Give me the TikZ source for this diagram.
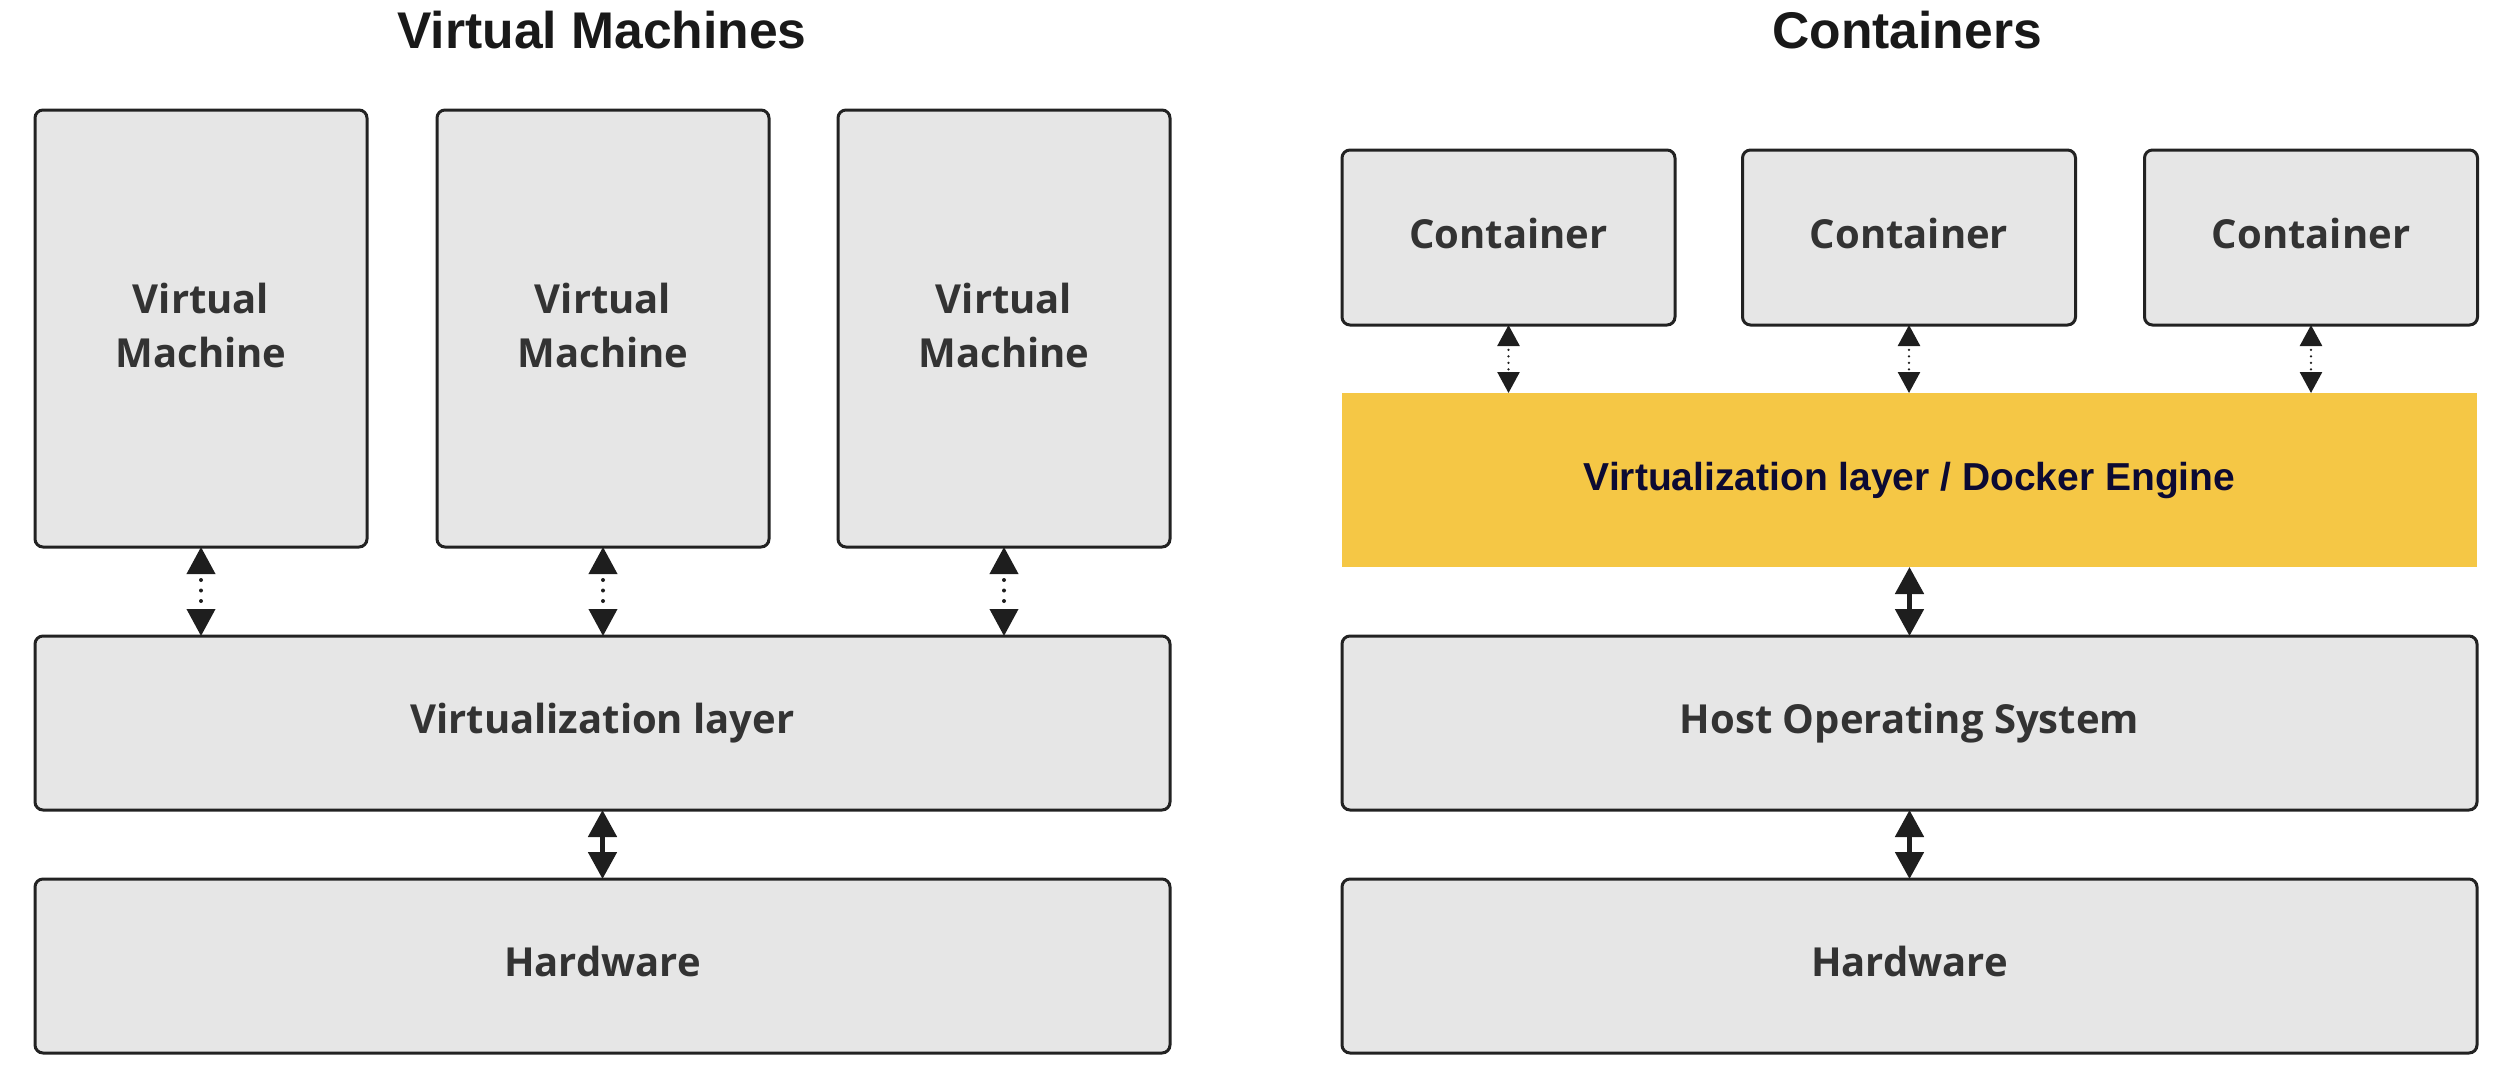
\documentclass[tikz,border=0pt]{standalone}
\usepackage{fontspec}
\setmainfont{Liberation Sans}
\newfontfamily\osans{Open Sans}
\usetikzlibrary{arrows.meta}
\definecolor{boxfill}{HTML}{E6E6E6}
\definecolor{boxline}{HTML}{222222}
\definecolor{txtgray}{HTML}{333333}
\definecolor{ylw}{HTML}{F5C745}
\definecolor{navy}{HTML}{0C0A33}
\definecolor{arrcol}{HTML}{1E1E1E}
\begin{document}
\begin{tikzpicture}[x=1pt,y=-1pt,
  box/.style={draw=boxline, line width=3pt, fill=boxfill, rounded corners=8pt,
    inner sep=0pt, outer sep=0pt, text=txtgray, align=center,
    font=\osans\bfseries\fontsize{40}{54}\selectfont},
  onebox/.style={box, text height=31pt, text depth=10pt},
  vmbox/.style={box, text depth=7pt, minimum width=332pt, minimum height=437pt},
  ylwbox/.style={fill=ylw, inner sep=0pt, outer sep=0pt, text=navy,
    font=\bfseries\fontsize{39}{46}\selectfont},
  ttl/.style={anchor=base, inner sep=0pt, text=black!90,
    font=\bfseries\fontsize{51.6}{60}\selectfont},
  dotarrow/.style={draw=arrcol, line width=4pt, line cap=round,
    dash pattern=on 0pt off 10.5pt, dash phase=3.5pt,
    {Triangle[length=27pt,width=28pt]}-{Triangle[length=27pt,width=28pt]}},
  smalldot/.style={draw=arrcol, line width=2.6pt, line cap=round,
    dash pattern=on 0pt off 6.5pt, dash phase=2pt,
    {Triangle[length=21pt,width=22pt]}-{Triangle[length=21pt,width=22pt]}},
  solidarrow/.style={draw=arrcol, line width=5pt,
    {Triangle[length=27pt,width=28pt]}-{Triangle[length=27pt,width=28pt]}}
]
\useasboundingbox (0,0) rectangle (2512,1092);

% ---------- Virtual Machines ----------
\node[ttl] (t1) at (602,48) {Virtual Machines};
\node[vmbox] (vm1) at (201,328.5) {Virtual\\Machine};
\node[vmbox] (vm2) at (603,328.5) {Virtual\\Machine};
\node[vmbox] (vm3) at (1004,328.5) {Virtual\\Machine};
\node[onebox, minimum width=1135pt, minimum height=174pt] (virt) at (602.5,723) {Virtualization layer};
\node[onebox, minimum width=1135pt, minimum height=174pt] (hw1) at (602.5,966) {Hardware};

\draw[dotarrow] (vm1.south) -- (vm1.south |- virt.north);
\draw[dotarrow] (vm2.south) -- (vm2.south |- virt.north);
\draw[dotarrow] (vm3.south) -- (vm3.south |- virt.north);
\draw[solidarrow] (virt.south) -- (hw1.north);

% ---------- Containers ----------
\node[ttl] (t2) at (1907,48) {Containers};
\node[onebox, minimum width=333pt, minimum height=175pt] (c1) at (1508.5,237.5) {Container};
\node[onebox, minimum width=333pt, minimum height=175pt] (c2) at (1909,237.5) {Container};
\node[onebox, minimum width=333pt, minimum height=175pt] (c3) at (2311,237.5) {Container};
\node[ylwbox, minimum width=1135pt, minimum height=174pt] (dock) at (1909.5,480) {Virtualization layer / Docker Engine};
\node[onebox, minimum width=1135pt, minimum height=174pt] (host) at (1909.5,723) {Host Operating System};
\node[onebox, minimum width=1135pt, minimum height=174pt] (hw2) at (1909.5,966) {Hardware};

\draw[smalldot] (c1.south) -- (c1.south |- dock.north);
\draw[smalldot] (c2.south) -- (c2.south |- dock.north);
\draw[smalldot] (c3.south) -- (c3.south |- dock.north);
\draw[solidarrow] (dock.south) -- (host.north);
\draw[solidarrow] (host.south) -- (hw2.north);
\end{tikzpicture}
\end{document}
